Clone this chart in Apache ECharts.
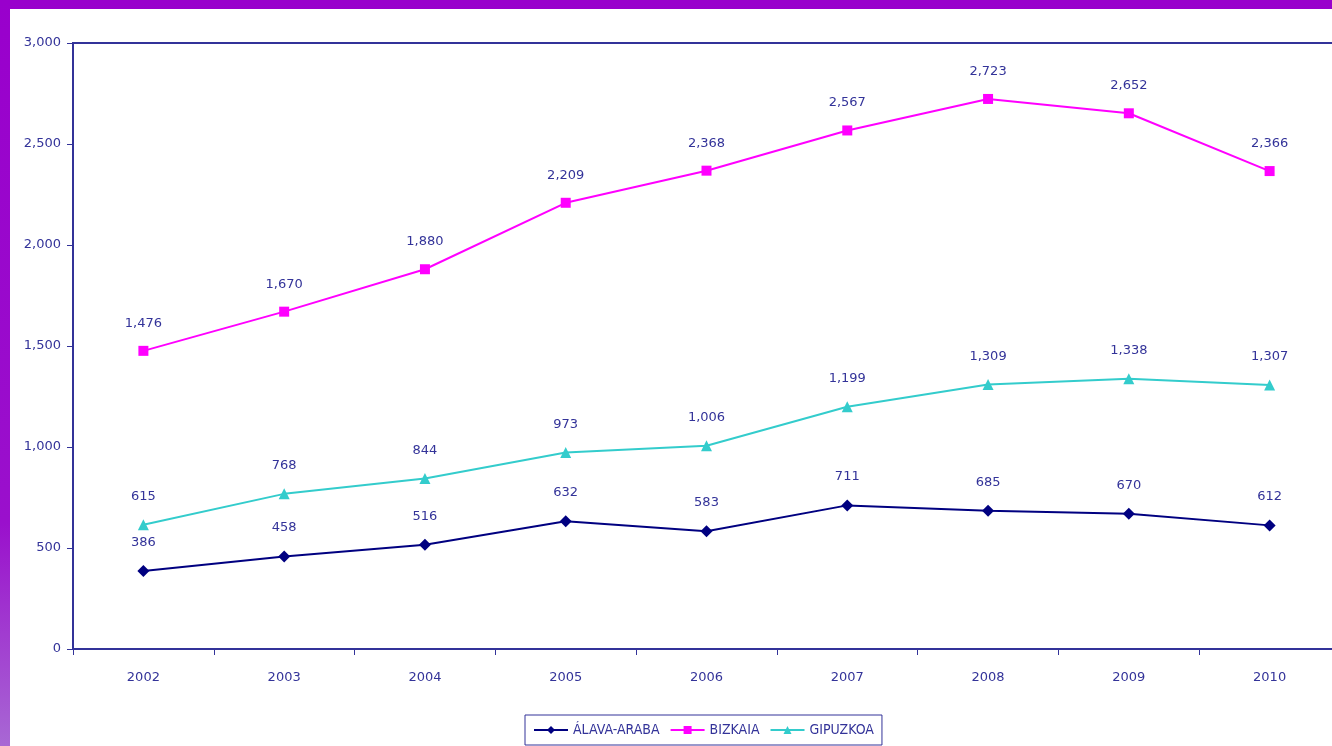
<!DOCTYPE html>
<html>
    <head>
        <meta charset="utf-8">
        <title>Álava, Bizkaia, Gipuzkoa 2002-2010</title>
        <script src="https://cdn.jsdelivr.net/npm/echarts@6/dist/echarts.min.js"></script>
        <style>
            html, body { margin: 0; padding: 0; overflow: hidden; }
            body {
                width: 1332px; height: 746px; position: relative;
                background: linear-gradient(to bottom, #9900cc 0%, #9a10cc 70%, #a868d4 100%);
            }
            #chart {
                position: absolute; left: 10px; top: 9px;
                width: 1331px; height: 737px; background: #fff;
            }
        </style>
    </head>
    <body>
        <div id="chart"></div>
        <script type="text/javascript">
            // datos
            var years = ['2002', '2003', '2004', '2005', '2006', '2007', '2008', '2009', '2010'];
            var alava = [386, 458, 516, 632, 583, 711, 685, 670, 612];
            var bizkaia = [1476, 1670, 1880, 2209, 2368, 2567, 2723, 2652, 2366];
            var gipuzkoa = [615, 768, 844, 973, 1006, 1199, 1309, 1338, 1307];

            var txt = '#333399';
            var fuente = '"DejaVu Sans", sans-serif';
            var fuenteLeyenda = '"DejaVu Sans Condensed", "DejaVu Sans", sans-serif';

            function fmt(v) {
                return String(v).replace(/\B(?=(\d{3})+(?!\d))/g, ',');
            }

            function serie(nombre, datos, color, simbolo, tam) {
                return {
                    name: nombre,
                    type: 'line',
                    data: datos,
                    symbol: simbolo,
                    symbolSize: tam,
                    lineStyle: { color: color, width: 2 },
                    itemStyle: { color: color },
                    label: {
                        show: true,
                        position: 'top',
                        distance: 16,
                        color: txt,
                        fontFamily: fuente,
                        fontSize: 13,
                        formatter: function (p) { return fmt(p.value); }
                    },
                    emphasis: { disabled: true },
                    animation: false
                };
            }

            var myChart = echarts.init(document.getElementById('chart'));
            myChart.setOption({
                backgroundColor: '#fff',
                grid: {
                    left: 63, right: 1, top: 34, bottom: 97,
                    show: true, borderColor: txt, borderWidth: 2
                },
                legend: {
                    bottom: 1,
                    left: 515,
                    itemWidth: 34,
                    itemHeight: 10,
                    itemGap: 10,
                    padding: [8, 8, 8, 8],
                    borderColor: txt,
                    borderWidth: 1,
                    textStyle: { color: txt, fontFamily: fuenteLeyenda, fontSize: 14 },
                    data: ['ÁLAVA-ARABA', 'BIZKAIA', 'GIPUZKOA']
                },
                xAxis: {
                    type: 'category',
                    data: years,
                    boundaryGap: true,
                    axisLine: { lineStyle: { color: txt, width: 1.5 } },
                    axisTick: { show: true, length: 6, inside: false, lineStyle: { color: txt } },
                    axisLabel: { color: txt, fontFamily: fuente, fontSize: 13, margin: 22 }
                },
                yAxis: {
                    type: 'value',
                    min: 0,
                    max: 3000,
                    interval: 500,
                    axisLine: { show: true, lineStyle: { color: txt, width: 1.5 } },
                    axisTick: { show: true, length: 6, lineStyle: { color: txt } },
                    splitLine: { show: false },
                    axisLabel: {
                        color: txt, fontFamily: fuente, fontSize: 13, margin: 12,
                        formatter: function (v) { return fmt(v); }
                    }
                },
                series: [
                    serie('ÁLAVA-ARABA', alava, '#000080', 'diamond', 12),
                    serie('BIZKAIA', bizkaia, '#ff00ff', 'rect', 10),
                    serie('GIPUZKOA', gipuzkoa, '#33cccc', 'triangle', 11)
                ]
            });
        </script>
    </body>
</html>
